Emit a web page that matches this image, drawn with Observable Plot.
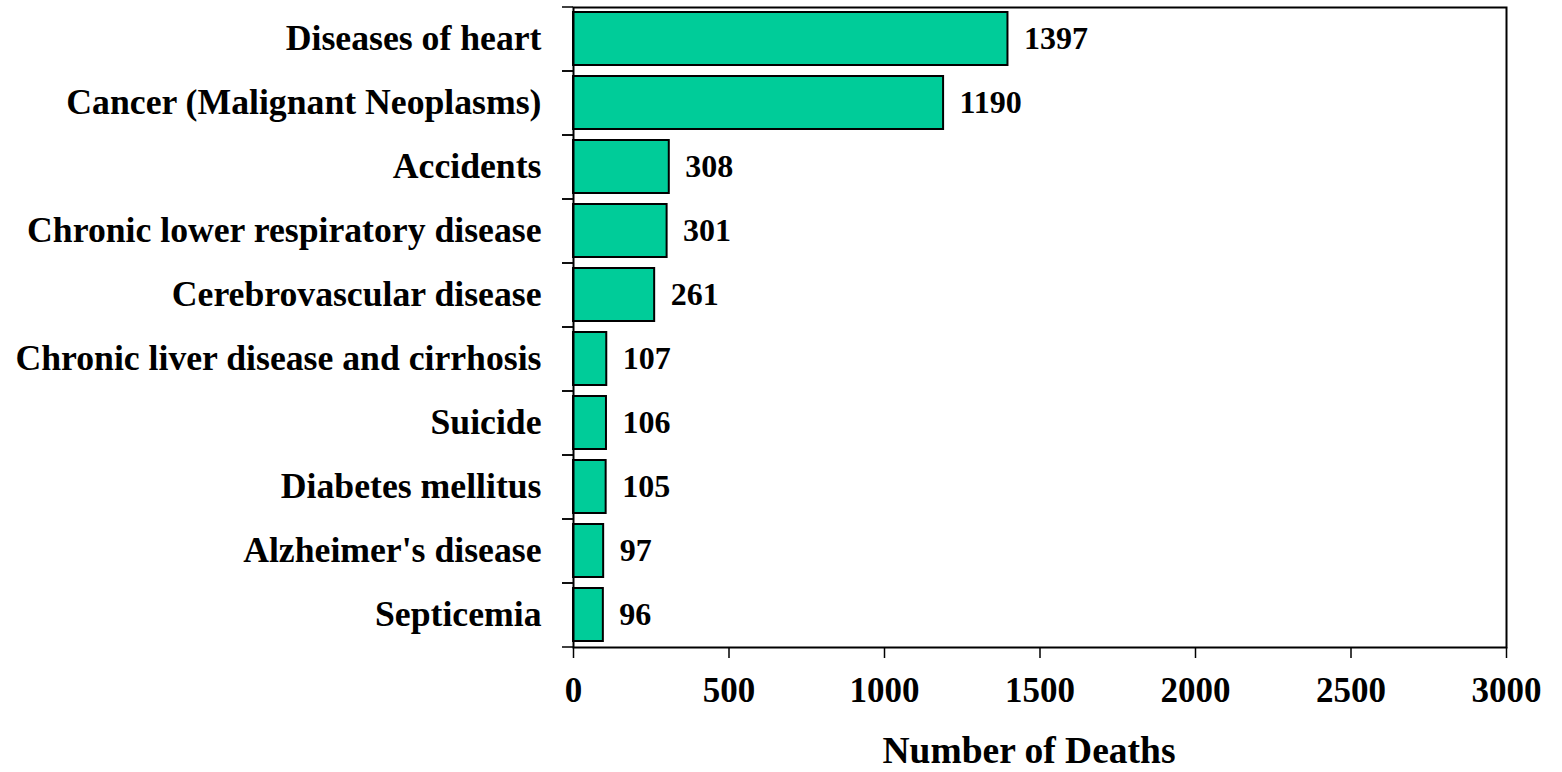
<!DOCTYPE html>
<html>
<head>
<meta charset="utf-8">
<script src="https://cdn.jsdelivr.net/npm/d3@7"></script>
<script src="https://cdn.jsdelivr.net/npm/@observablehq/plot@0.6"></script>
<style>
  html, body { margin: 0; padding: 0; background: #ffffff; }
</style>
</head>
<body>
<div id="chart"></div>
<script>
const causes = [
  "Diseases of heart",
  "Cancer (Malignant Neoplasms)",
  "Accidents",
  "Chronic lower respiratory disease",
  "Cerebrovascular disease",
  "Chronic liver disease and cirrhosis",
  "Suicide",
  "Diabetes mellitus",
  "Alzheimer's disease",
  "Septicemia"
];
const deaths = [1397, 1190, 308, 301, 261, 107, 106, 105, 97, 96];
const xTicks = [0, 500, 1000, 1500, 2000, 2500, 3000];
const xTitle = "Number of Deaths";

const data = causes.map((c, i) => ({cause: c, deaths: deaths[i]}));

const chart = Plot.plot({
  width: 1562,
  height: 772,
  marginLeft: 573,
  marginRight: 56,
  marginTop: 7,
  marginBottom: 125,
  x: {domain: [0, 3000]},
  y: {domain: causes, paddingInner: 0.17, paddingOuter: 0.085},
  style: {
    fontFamily: "'Liberation Serif', 'Times New Roman', serif",
    fontWeight: "bold",
    fontSize: "34px",
    background: "#ffffff",
    color: "#000000",
    overflow: "visible"
  },
  marks: [
    Plot.barX(data, {x: "deaths", y: "cause", fill: "#00CC99", stroke: "#000000", strokeWidth: 2}),
    Plot.frame({stroke: "#000000", strokeWidth: 2}),
    Plot.text(data, {x: "deaths", y: "cause", text: d => String(d.deaths), textAnchor: "start", dx: 16, fontSize: 32, fontWeight: "bold", fill: "#000000"}),
    Plot.axisY({tickSize: 0, tickPadding: 32, fontSize: 35.7, fontWeight: "bold", label: null}),
    Plot.axisY({tickSize: 11, tickFormat: () => "", dy: -32, label: null, strokeWidth: 1.5}),
    Plot.axisY({tickSize: 11, tickFormat: () => "", dy: 32, label: null, strokeWidth: 1.5}),
    Plot.axisX({ticks: xTicks, tickFormat: d3.format("d"), tickSize: 11, tickPadding: 19, fontSize: 35, fontWeight: "bold", label: null, strokeWidth: 1.5}),
    Plot.text([xTitle], {frameAnchor: "bottom", dy: 115, lineAnchor: "bottom", dx: -11, fontSize: 37.5, fontWeight: "bold", fill: "#000000"})
  ]
});
document.getElementById("chart").appendChild(chart);
</script>
</body>
</html>
